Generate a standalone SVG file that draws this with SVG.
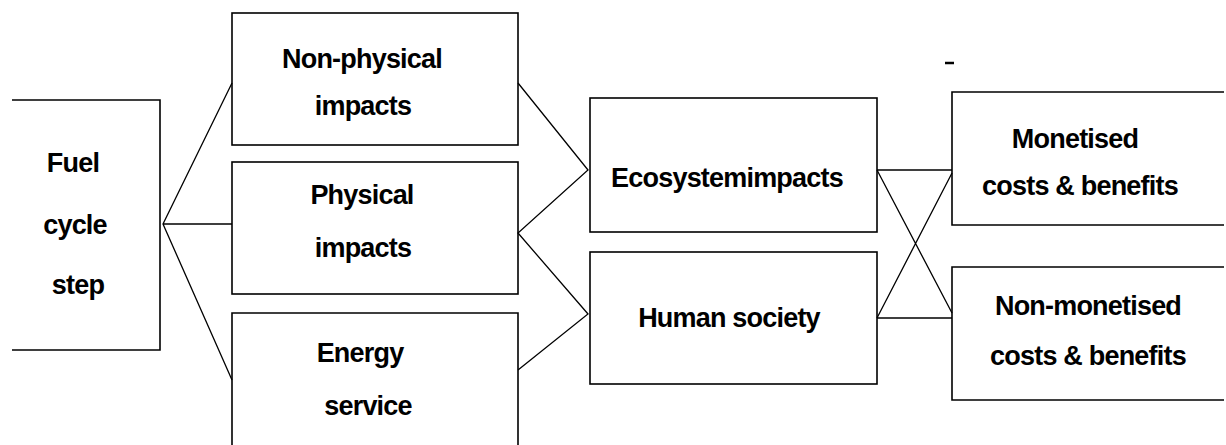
<svg xmlns="http://www.w3.org/2000/svg" width="1226" height="445" viewBox="0 0 1226 445">
<style>
.b{fill:none;stroke:#000;stroke-width:1.6}
.c{fill:none;stroke:#000;stroke-width:1.3}
text{font-family:"Liberation Sans",Arial,sans-serif;font-weight:bold;font-size:27px;fill:#000;text-anchor:middle;letter-spacing:-0.8px}
</style>
<rect width="1226" height="445" fill="#fff"/>
<g id="fuel">
<path class="b" d="M12,100 H160 V350 H12"/>
<text x="73" y="172">Fuel</text>
<text x="75" y="234">cycle</text>
<text x="78" y="294">step</text>
</g>
<g id="nonphysical">
<rect class="b" x="232" y="13" width="286" height="132"/>
<text x="362" y="68">Non-physical</text>
<text x="363" y="115">impacts</text>
</g>
<g id="physical">
<rect class="b" x="232" y="162" width="286" height="132"/>
<text x="362" y="204">Physical</text>
<text x="363" y="257">impacts</text>
</g>
<g id="energy">
<path class="b" d="M232,446 V313 H518 V446"/>
<text x="360" y="362">Energy</text>
<text x="368" y="415">service</text>
</g>
<g id="ecosystem">
<rect class="b" x="590" y="98" width="287" height="134"/>
<text x="727" y="187">Ecosystemimpacts</text>
</g>
<g id="human">
<rect class="b" x="590" y="252" width="287" height="132"/>
<text x="729" y="327">Human society</text>
</g>
<g id="monetised">
<path class="b" d="M1224,92 H952 V225 H1224"/>
<text x="1075" y="148">Monetised</text>
<text x="1080" y="195">costs &amp; benefits</text>
</g>
<g id="nonmonetised">
<path class="b" d="M1224,267 H952 V400 H1224"/>
<text x="1088" y="315">Non-monetised</text>
<text x="1088" y="365">costs &amp; benefits</text>
</g>
<g id="connectors">
<path class="c" d="M232,83 L163,224 L232,380 M163,224 H232"/>
<path class="c" d="M518,83 L588,170 L518,233 L588,314 L518,370"/>
<path class="c" d="M877,170 H952 M877,318 H952 M877,170 L952,313 M877,318 L952,173"/>
</g>
<line x1="945" y1="63" x2="954" y2="63" stroke="#000" stroke-width="2.5"/>
</svg>
